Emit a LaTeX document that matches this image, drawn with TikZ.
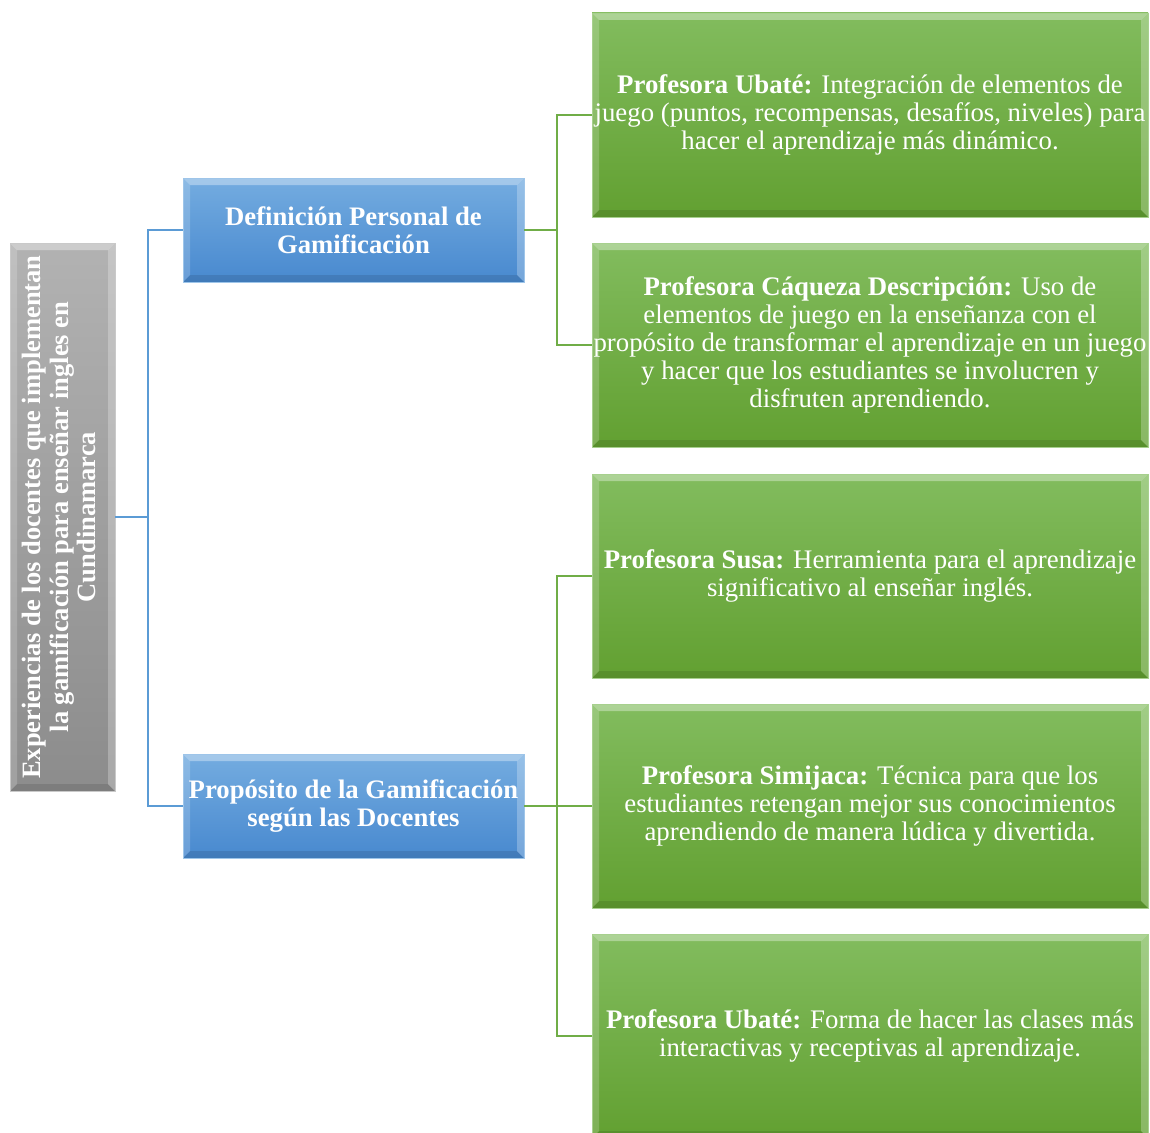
\documentclass[tikz,border=0pt]{standalone}
\usepackage{fontspec}
\setmainfont{Liberation Serif}
\usetikzlibrary{positioning}
\definecolor{grisA}{HTML}{B2B2B2}
\definecolor{grisB}{HTML}{8C8C8C}
\definecolor{azulA}{HTML}{74ACE0}
\definecolor{azulB}{HTML}{4889CF}
\definecolor{verdeA}{HTML}{82BC5E}
\definecolor{verdeB}{HTML}{62A031}
\definecolor{lazul}{HTML}{5B9BD5}
\definecolor{lverde}{HTML}{70AD47}
\tikzset{
  bisel/.style={path picture={
    \fill[white,opacity=.35] (path picture bounding box.north west) -- (path picture bounding box.north east)
      -- ([xshift=-7pt,yshift=-7pt]path picture bounding box.north east) -- ([xshift=7pt,yshift=-7pt]path picture bounding box.north west) -- cycle;
    \fill[white,opacity=.18] (path picture bounding box.north west) -- (path picture bounding box.south west)
      -- ([xshift=7pt,yshift=7pt]path picture bounding box.south west) -- ([xshift=7pt,yshift=-7pt]path picture bounding box.north west) -- cycle;
    \fill[black,opacity=.10] (path picture bounding box.south west) -- (path picture bounding box.south east)
      -- ([xshift=-7pt,yshift=7pt]path picture bounding box.south east) -- ([xshift=7pt,yshift=7pt]path picture bounding box.south west) -- cycle;
    \fill[white,opacity=.25] (path picture bounding box.north east) -- (path picture bounding box.south east)
      -- ([xshift=-7pt,yshift=7pt]path picture bounding box.south east) -- ([xshift=-7pt,yshift=-7pt]path picture bounding box.north east) -- cycle;
  }},
  caja/.style={rectangle, inner sep=0pt, align=center, text=white, bisel,
    font=\fontsize{26.8}{28}\selectfont},
  gris/.style={caja, draw=grisA!70!white, top color=grisA, bottom color=grisB,
    minimum width=105, minimum height=548, font=\bfseries\fontsize{26.5}{27.5}\selectfont},
  azul/.style={caja, draw=azulA!70!white, top color=azulA, bottom color=azulB,
    minimum width=341, minimum height=104, font=\bfseries\fontsize{26.7}{28}\selectfont},
  verde/.style={caja, draw=verdeA!70!white, top color=verdeA, bottom color=verdeB,
    minimum width=556, minimum height=204},
  lazulL/.style={draw=lazul, line width=2pt},
  lverdeL/.style={draw=lverde, line width=2.5pt}
}
\begin{document}
\begin{tikzpicture}[x=1pt,y=-1pt]
  \useasboundingbox (0,0) rectangle (1150,1132);
  % raiz
  \node[gris] (exp) at (62.5,517) {\rotatebox{90}{\begin{tabular}{@{}c@{}}Experiencias de los docentes que implementan\\ la gamificación para enseñar ingles en\\ Cundinamarca\end{tabular}}};
  % categorias
  \node[azul] (def) at (353.5,230) {Definición Personal de\\ Gamificación};
  \node[azul] (pro) at (353.5,806) {Propósito de la Gamificación\\ según las Docentes};
  % respuestas de las docentes
  \node[verde] (ubate) at (870,115) {\textbf{Profesora Ubaté:} Integración de elementos de\\ juego (puntos, recompensas, desafíos, niveles) para\\ hacer el aprendizaje más dinámico.};
  \node[verde] (caqueza) at (870,345) {\textbf{Profesora Cáqueza Descripción:} Uso de\\ elementos de juego en la enseñanza con el\\ propósito de transformar el aprendizaje en un juego\\ y hacer que los estudiantes se involucren y\\ disfruten aprendiendo.};
  \node[verde] (susa) at (870,576) {\textbf{Profesora Susa:} Herramienta para el aprendizaje\\ significativo  al enseñar inglés.};
  \node[verde] (simijaca) at (870,806) {\textbf{Profesora Simijaca:} Técnica para que los\\ estudiantes retengan mejor sus conocimientos\\ aprendiendo de manera lúdica y divertida.};
  \node[verde] (ubateb) at (870,1036) {\textbf{Profesora Ubaté:} Forma de hacer las clases más\\ interactivas y receptivas al aprendizaje.};
  % conectores
  \draw[lazulL] (exp.east) -- ++(33,0) |- (def.west);
  \draw[lazulL] (exp.east) -- ++(33,0) |- (pro.west);
  \draw[lverdeL] (def.east) -- ++(33,0) |- (ubate.west);
  \draw[lverdeL] (def.east) -- ++(33,0) |- (caqueza.west);
  \draw[lverdeL] (pro.east) -- ++(33,0) |- (susa.west);
  \draw[lverdeL] (pro.east) -- ++(33,0) |- (simijaca.west);
  \draw[lverdeL] (pro.east) -- ++(33,0) |- (ubateb.west);
\end{tikzpicture}
\end{document}
